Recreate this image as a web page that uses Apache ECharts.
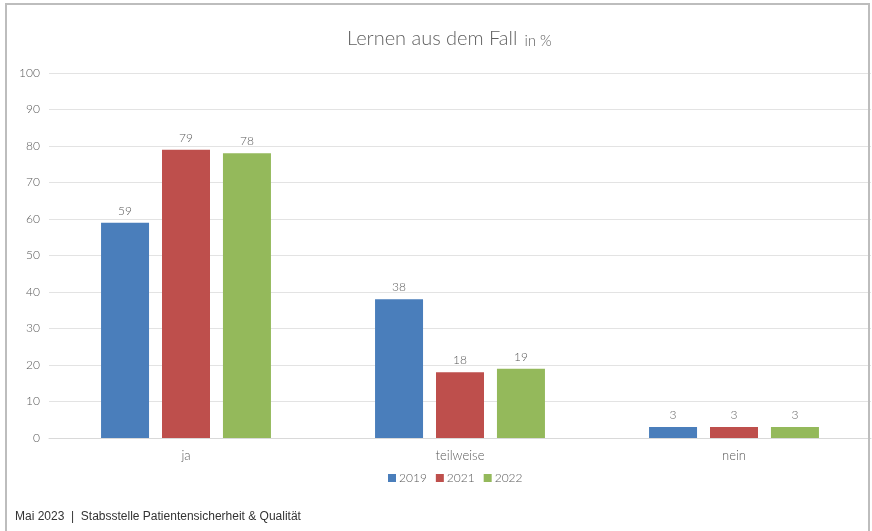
<!DOCTYPE html>
<html><head><meta charset="utf-8">
<script src="https://cdn.jsdelivr.net/npm/echarts@6/dist/echarts.min.js"></script>
<style>html,body{margin:0;padding:0;background:#fff}#c{width:872px;height:531px}</style>
</head><body><div id="c"></div>
<script>
const categories = ['ja', 'teilweise', 'nein'];
const years = ['2019', '2021', '2022'];
const values2019 = [59, 38, 3];
const values2021 = [79, 18, 3];
const values2022 = [78, 19, 3];
const colors = ['#4a7ebb', '#be4f4c', '#94b95b'];
const seriesValues = [values2019, values2021, values2022];

const chart = echarts.init(document.getElementById('c'));
const font = 'Lato, "DejaVu Sans", sans-serif';
chart.setOption({
  animation: false,
  title: {
    text: '{a|Lernen aus dem Fall} {b|in %}',
    left: 342, top: 24,
    textStyle: { fontWeight: 'normal', rich: {
      a: { fontSize: 20, color: '#5f5f5f', fontFamily: font, fontWeight: 300 },
      b: { fontSize: 15, color: '#5f5f5f', fontFamily: font, fontWeight: 300, padding: [4, 0, 0, 2] }
    } }
  },
  legend: {
    bottom: 42, left: 383,
    itemWidth: 8, itemHeight: 8, itemGap: 9,
    icon: 'rect',
    textStyle: { color: '#595959', fontSize: 12, fontFamily: font, fontWeight: 300, padding: [0, 0, 0, -2] }
  },
  grid: { left: 49, right: 1, top: 73, bottom: 93, containLabel: false },
  xAxis: {
    type: 'category', data: categories,
    axisLine: { lineStyle: { color: '#d9d9d9' } },
    axisTick: { show: false },
    axisLabel: { color: '#595959', fontSize: 13, fontFamily: font, fontWeight: 300, margin: 11 }
  },
  yAxis: {
    type: 'value', min: 0, max: 100, interval: 10,
    axisLine: { show: false }, axisTick: { show: false },
    splitLine: { lineStyle: { color: '#e3e3e3' } },
    axisLabel: { color: '#595959', fontSize: 12, fontFamily: font, fontWeight: 300, margin: 9 }
  },
  series: years.map((y, i) => ({
    name: y, type: 'bar', data: seriesValues[i],
    barWidth: 48, barGap: '27%', barCategoryGap: '38%',
    itemStyle: { color: colors[i] },
    label: { show: true, position: 'top', color: '#595959', fontSize: 12, fontFamily: font, fontWeight: 300, distance: 6 }
  })),
  graphic: [
    { type: 'rect', shape: { x: 6, y: 4, width: 863, height: 540 },
      style: { fill: null, stroke: '#bdbdbd', lineWidth: 2 }, z: 100 },
    { type: 'text', left: 15, top: 511,
      style: { text: 'Mai 2023  |  Stabsstelle Patientensicherheit & Qualität', fill: '#333', font: '12px "Liberation Sans", Arial, sans-serif' } }
  ]
});
</script></body></html>
